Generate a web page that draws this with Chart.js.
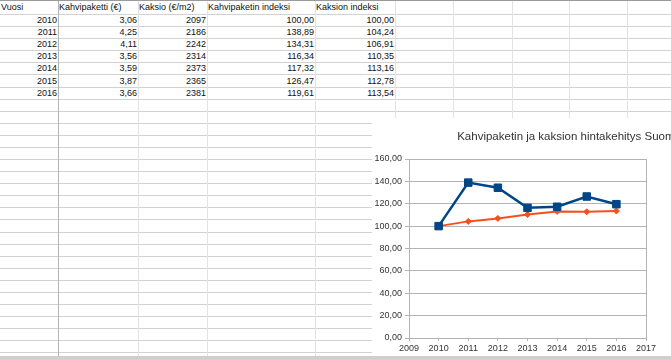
<!DOCTYPE html>
<html>
<head>
<meta charset="utf-8">
<script src="https://cdn.jsdelivr.net/npm/chart.js@4.4.0/dist/chart.umd.min.js"></script>
<style>
  html, body { margin:0; padding:0; background:#fff; overflow:hidden; width:671px; height:359px; }
  #sheet { position:absolute; left:0; top:0; width:671px; height:359px; font-family:'Liberation Sans', Arial, sans-serif; font-size:9px; color:#111; }
  .hl { position:absolute; height:1px; background:#d2d2d2; }
  .vl { position:absolute; width:1px; background:#e2e2e2; }
  .cell { position:absolute; white-space:nowrap; overflow:visible; }
  #chartBox { position:absolute; left:372px; top:118px; width:412px; height:239px; background:#fff; }
  #bottomBar { position:absolute; left:0; top:356px; width:671px; height:3px; background:#cfcfcf; }
</style>
</head>
<body>
<div id="sheet"></div>
<div id="chartBox"><canvas id="c" width="412" height="239"></canvas></div>
<div id="bottomBar"></div>
<script>
// ---- Data ----
const otsikot = ['Vuosi', 'Kahvipaketti (€)', 'Kaksio (€/m2)', 'Kahvipaketin indeksi', 'Kaksion indeksi'];
const vuodet = [2010, 2011, 2012, 2013, 2014, 2015, 2016];
const kahvipaketti = [3.06, 4.25, 4.11, 3.56, 3.59, 3.87, 3.66];
const kaksio = [2097, 2186, 2242, 2314, 2373, 2365, 2381];
const kahviIndeksi = [100.00, 138.89, 134.31, 116.34, 117.32, 126.47, 119.61];
const kaksioIndeksi = [100.00, 104.24, 106.91, 110.35, 113.16, 112.78, 113.54];
const sarjaNimet = ['Kahvipaketin indeksi', 'Kaksion indeksi'];
const otsikko = 'Kahvipaketin ja kaksion hintakehitys Suomessa';

// ---- Spreadsheet grid (layout) ----
const sheet = document.getElementById('sheet');
const colX = [0, 58, 138, 207, 315, 395, 453, 512, 569, 627, 685];
const rowTop = 2, rowH = 12.08, nRows = 29;
function lineY(k){ return Math.round(rowTop + rowH * (k + 1)); }
let t = document.createElement('div'); t.className='hl'; t.style.cssText='left:0;top:0;width:671px;background:#9a9a9a;'; sheet.appendChild(t);
for (let k = 0; k < nRows; k++) {
  const d = document.createElement('div'); d.className = 'hl';
  d.style.left = '0px'; d.style.top = lineY(k) + 'px'; d.style.width = '671px';
  sheet.appendChild(d);
}
for (let i = 1; i < colX.length; i++) {
  const d = document.createElement('div'); d.className = 'vl';
  d.style.left = colX[i] + 'px'; d.style.top = '1px'; d.style.height = '356px';
  if (i === 1) d.style.background = '#b4b4b4';
  sheet.appendChild(d);
}
function fmt(v){ return v.toFixed(2).replace('.', ','); }
function cell(row, col, text, right){
  const d = document.createElement('div'); d.className = 'cell';
  const top = row === 0 ? 1 : lineY(row - 1) + 1;
  const bottom = lineY(row);
  d.style.top = top + 'px'; d.style.height = (bottom - top) + 'px'; d.style.lineHeight = (bottom - top) + 'px';
  if (right) { d.style.right = (671 - colX[col + 1] + 1) + 'px'; d.style.textAlign = 'right'; }
  else { d.style.left = (colX[col] + 1) + 'px'; }
  d.textContent = text;
  sheet.appendChild(d);
}
otsikot.forEach((h, i) => cell(0, i, h, false));
vuodet.forEach((y, r) => {
  cell(r + 1, 0, String(y), true);
  cell(r + 1, 1, fmt(kahvipaketti[r]), true);
  cell(r + 1, 2, String(kaksio[r]), true);
  cell(r + 1, 3, fmt(kahviIndeksi[r]), true);
  cell(r + 1, 4, fmt(kaksioIndeksi[r]), true);
});

// ---- Chart ----
const gridCol = '#b3b3b3';
const plotFrame = {
  id: 'plotFrame',
  beforeDatasetsDraw(chart) {
    const a = chart.chartArea, ctx = chart.ctx;
    ctx.save(); ctx.strokeStyle = gridCol; ctx.lineWidth = 1;
    ctx.beginPath(); ctx.moveTo(Math.round(a.right) + 0.5, a.top); ctx.lineTo(Math.round(a.right) + 0.5, a.bottom); ctx.stroke();
    ctx.restore();
  }
};
const fontFam = "'Liberation Sans', Arial, sans-serif";
new Chart(document.getElementById('c'), {
  type: 'line',
  data: {
    datasets: [
      { label: sarjaNimet[0], data: vuodet.map((v, i) => ({x: v, y: kahviIndeksi[i]})),
        borderColor: '#004586', backgroundColor: '#004586', borderWidth: 2.5,
        pointStyle: 'rect', pointRadius: 5.3, pointBorderWidth: 1, tension: 0 },
      { label: sarjaNimet[1], data: vuodet.map((v, i) => ({x: v, y: kaksioIndeksi[i]})),
        borderColor: '#f5501a', backgroundColor: '#f5501a', borderWidth: 2,
        pointStyle: 'rectRot', pointRadius: 3, pointBorderWidth: 1, tension: 0 }
    ]
  },
  options: {
    responsive: false, animation: false, devicePixelRatio: 1,
    layout: { padding: 0 },
    plugins: {
      legend: { display: false }, tooltip: { enabled: false },
      title: { display: true, text: otsikko, color: '#333', font: { family: fontFam, size: 11.5, weight: 'normal', lineHeight: 1.2 },
               padding: { top: 12.1, bottom: 15.1 } }
    },
    scales: {
      x: { type: 'linear', min: 2009, max: 2017,
           afterFit(s) { s.height = 19; },
           ticks: { stepSize: 1, color: '#333', padding: 2, maxRotation: 0, font: { family: fontFam, size: 9 }, callback: v => String(v) },
           grid: { drawOnChartArea: false, drawTicks: true, tickLength: 3, color: gridCol },
           border: { color: gridCol } },
      y: { min: 0, max: 160,
           afterFit(s) { s.width = 37; },
           ticks: { stepSize: 20, color: '#333', padding: 3, font: { family: fontFam, size: 9 }, callback: v => fmt(v) },
           grid: { color: gridCol, tickLength: 4 },
           border: { color: gridCol } },
      spacer: { type: 'linear', position: 'right', display: true,
           afterFit(s) { s.width = 138; },
           ticks: { display: false }, grid: { display: false }, border: { display: false } }
    }
  },
  plugins: [plotFrame]
});
</script>
</body>
</html>
